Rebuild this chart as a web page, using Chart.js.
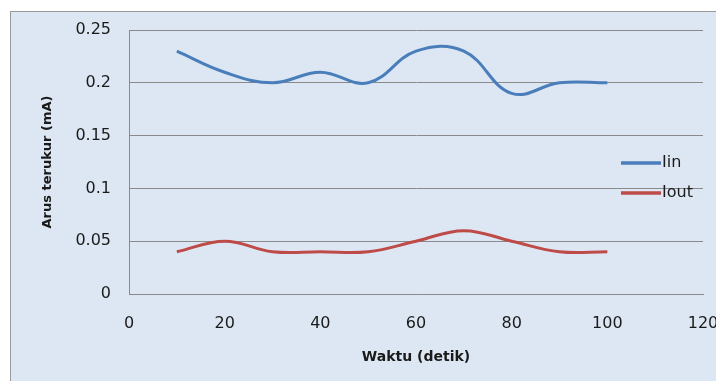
<!DOCTYPE html>
<html>
<head>
<meta charset="utf-8">
<script src="https://cdn.jsdelivr.net/npm/chart.js@4"></script>
<style>
  html, body { margin: 0; padding: 0; background: #fff; overflow: hidden; }
  #box {
    position: absolute; left: 10px; top: 11px;
    width: 740px; height: 400px;
    background: #dde7f3; border: 1px solid #9a9a9a;
    overflow: hidden;
  }
  #chartCanvas { display: block; }
</style>
</head>
<body>
<div id="box"><canvas id="chartCanvas" width="730" height="369"></canvas></div>
<script>
// time (s)
const waktu = [10, 20, 30, 40, 50, 60, 70, 80, 90, 100];
// measured current (mA)
const iin  = [0.23, 0.21, 0.20, 0.21, 0.20, 0.23, 0.23, 0.19, 0.20, 0.20];
const iout = [0.04, 0.05, 0.04, 0.04, 0.04, 0.05, 0.06, 0.05, 0.04, 0.04];
const seriesNames = ["Iin", "Iout"];
const xTicks = [0, 20, 40, 60, 80, 100, 120];
const yTicks = [0, 0.05, 0.1, 0.15, 0.2, 0.25];

const fontFam = "'DejaVu Sans', sans-serif";

function toPoints(ys) {
  return waktu.map((x, i) => ({ x: x, y: ys[i] }));
}

// legend drawn over the plot area, like the original
const legendInside = {
  id: "legendInside",
  afterDraw(chart) {
    const ctx = chart.ctx;
    const area = chart.chartArea;
    ctx.save();
    chart.data.datasets.forEach((ds, i) => {
      const y = area.top + 133 + i * 30;
      const x0 = area.right - 82;
      ctx.strokeStyle = ds.borderColor;
      ctx.lineWidth = 3.5;
      ctx.beginPath();
      ctx.moveTo(x0, y);
      ctx.lineTo(x0 + 40, y);
      ctx.stroke();
      ctx.fillStyle = "#1a1a1a";
      ctx.font = "16px " + fontFam;
      ctx.textBaseline = "middle";
      ctx.fillText(ds.label, x0 + 41, y);
    });
    ctx.restore();
  }
};

const ctx = document.getElementById("chartCanvas").getContext("2d");

window.currentChart = new Chart(ctx, {
  type: "line",
  data: {
    datasets: [{
      label: seriesNames[0],
      data: toPoints(iin),
      borderColor: "#4a7ebb",
      borderWidth: 3,
      pointRadius: 0,
      tension: 0.4,
      fill: false
    }, {
      label: seriesNames[1],
      data: toPoints(iout),
      borderColor: "#be4b48",
      borderWidth: 3,
      pointRadius: 0,
      tension: 0.4,
      fill: false
    }]
  },
  options: {
    responsive: false,
    animation: false,
    layout: { padding: { left: 0, top: 18, right: 38, bottom: 10 } },
    plugins: {
      legend: { display: false },
      tooltip: { enabled: false }
    },
    scales: {
      x: {
        type: "linear",
        min: 0,
        max: 120,
        afterBuildTicks: (scale) => { scale.ticks = xTicks.map(v => ({ value: v })); },
        afterFit: (scale) => { scale.height = 77; },
        grid: { display: false, drawTicks: false },
        border: { color: "#8a8a8a", width: 1 },
        ticks: {
          padding: 20,
          color: "#1a1a1a",
          font: { family: fontFam, size: 16 },
          callback: (v) => String(v)
        },
        title: {
          display: true,
          text: "Waktu (detik)",
          color: "#1a1a1a",
          font: { family: fontFam, size: 14, weight: "bold" },
          padding: { top: 0, bottom: 5 }
        }
      },
      y: {
        min: 0,
        max: 0.25,
        afterBuildTicks: (scale) => { scale.ticks = yTicks.map(v => ({ value: v })); },
        afterFit: (scale) => {
          scale.width = 118;
          scale.paddingTop = 0;
          scale.paddingBottom = 0;
        },
        grid: { color: "#8a8a8a", lineWidth: 1, drawTicks: false },
        border: { color: "#8a8a8a", width: 1 },
        ticks: {
          padding: 18,
          color: "#1a1a1a",
          font: { family: fontFam, size: 16 },
          callback: (v) => String(v)
        },
        title: {
          display: true,
          text: "Arus terukur (mA)",
          color: "#1a1a1a",
          font: { family: fontFam, size: 13, weight: "bold" },
          padding: { top: 29, bottom: 0 }
        }
      }
    }
  },
  plugins: [legendInside]
});
</script>
</body>
</html>
